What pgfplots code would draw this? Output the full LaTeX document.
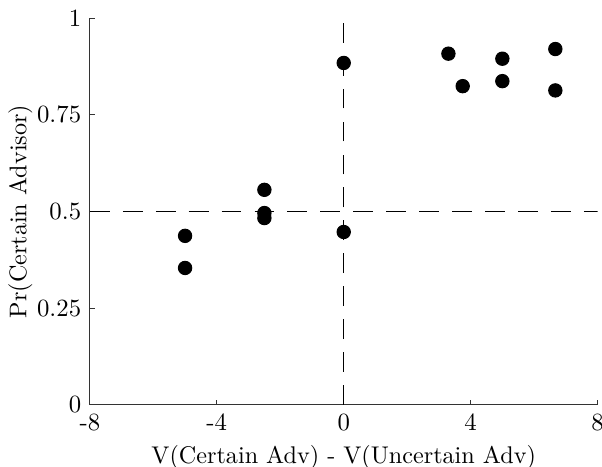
\documentclass[border=0pt]{standalone}
\usepackage{pgfplots}
\pgfplotsset{compat=1.18}
\begin{document}
\begin{tikzpicture}
\begin{axis}[
  scale only axis,
  width=205pt, height=156.2pt,
  xmin=-8, xmax=8, ymin=0, ymax=1,
  axis x line*=bottom, axis y line*=left,
  axis line style={thin, black!80},
  every outer x axis line/.append style={-},
  every outer y axis line/.append style={-},
  xtick={-8,-4,0,4,8}, xticklabels={-8,-4,0,4,8},
  ytick={0,0.25,0.5,0.75,1},
  yticklabels={0,0.25,0.5,0.75,1},
  tick align=inside, major tick length=2pt,
  tick style={black!80, thin},
  xlabel={V(Certain Adv) - V(Uncertain Adv)},
  ylabel={Pr(Certain Advisor)},
  label style={font=\fontsize{9.75}{11}\selectfont},
  xlabel style={yshift=1pt},
  ylabel style={yshift=-5pt},
]
\addplot[black, thin, dash pattern=on 8pt off 5.3pt] coordinates {(0,0) (0,1)};
\addplot[black, thin, dash pattern=on 8pt off 5.3pt] coordinates {(-8,0.5) (8,0.5)};
\addplot[only marks, mark=*, mark size=2.7pt, black] coordinates {
(-5,0.437) (-5,0.354)
(-2.5,0.556) (-2.5,0.496) (-2.5,0.483)
(0,0.884) (0,0.447)
(3.3,0.908) (3.75,0.824)
(5,0.895) (5,0.837)
(6.67,0.920) (6.67,0.813)
};
\end{axis}
\pgfresetboundingbox
\path[use as bounding box] ([xshift=-36.3pt,yshift=-25pt]current axis.south west) rectangle ([xshift=1.8pt,yshift=7.3pt]current axis.north east);
\end{tikzpicture}
\end{document}
